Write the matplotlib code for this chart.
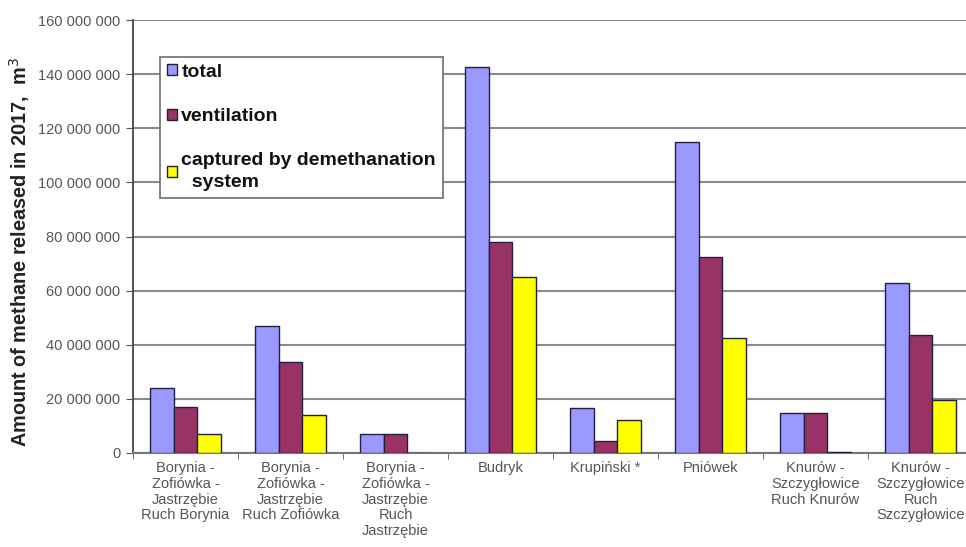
import matplotlib
matplotlib.use("Agg")
import matplotlib.pyplot as plt
import numpy as np

plt.rcParams['font.family'] = ['Liberation Sans', 'DejaVu Sans']

categories = [
    "Borynia -\nZofiówka -\nJastrzębie\nRuch Borynia",
    "Borynia -\nZofiówka -\nJastrzębie\nRuch Zofiówka",
    "Borynia -\nZofiówka -\nJastrzębie\nRuch\nJastrzębie",
    "Budryk",
    "Krupiński *",
    "Pniówek",
    "Knurów -\nSzczygłowice\nRuch Knurów",
    "Knurów -\nSzczygłowice\nRuch\nSzczygłowice",
]
total = [24_000_000, 47_000_000, 7_000_000, 142_500_000, 16_500_000, 115_000_000, 14_700_000, 63_000_000]
ventilation = [17_000_000, 33_500_000, 7_000_000, 78_000_000, 4_300_000, 72_500_000, 14_700_000, 43_500_000]
captured = [7_000_000, 14_000_000, 0, 65_000_000, 12_200_000, 42_500_000, 400_000, 19_500_000]
series_names = ["total", "ventilation", "captured by demethanation\n  system"]
colors = ["#9999FF", "#993366", "#FFFF00"]
yticks = list(range(0, 160_000_001, 20_000_000))

fig = plt.figure(figsize=(9.66, 5.47), dpi=100)
ax = fig.add_axes([133/966, 1-453/547, 840/966, 433/547])

x = np.arange(len(categories))
w = 0.224
for i, (vals, name, c) in enumerate(zip([total, ventilation, captured], series_names, colors)):
    ax.bar(x + (i - 1) * w, vals, width=w, color=c, edgecolor="#202040",
           linewidth=1.0, label=name, zorder=3)

ax.set_xlim(-0.5, len(categories) - 0.5)
ax.set_ylim(0, 160_000_000)
ax.set_yticks(yticks)
ax.set_yticklabels([f"{v:,}".replace(",", " ") for v in yticks], color="#555555", fontsize=10.5)
ax.yaxis.grid(True, color="#8a8a8a", linewidth=1.5, zorder=0)
ax.set_axisbelow(True)

ax.set_xticks(x)
ax.set_xticklabels(categories, fontsize=10.5, color="#555555", linespacing=1.15)
ax.tick_params(axis="x", which="major", length=0, pad=6)
ax.set_xticks(np.arange(-0.5, len(categories), 1.0), minor=True)
ax.tick_params(axis="x", which="minor", length=4, color="#555555", direction="out")
ax.tick_params(axis="y", length=5, color="#555555", direction="out", pad=4)

for s in ["top", "right"]:
    ax.spines[s].set_visible(False)
ax.spines["left"].set_color("#444444")
ax.spines["left"].set_linewidth(1.3)
ax.spines["bottom"].set_color("#777777")
ax.spines["bottom"].set_linewidth(1.5)

ax.set_ylabel("Amount of methane released in 2017,  m$^3$", fontsize=14.3,
              fontweight="bold", color="#222222")
ax.yaxis.set_label_coords(-0.12, 0.465)

leg = ax.legend(loc="upper left", bbox_to_anchor=(160/966, 1-57/547),
                bbox_transform=fig.transFigure, frameon=True, fancybox=False,
                edgecolor="#777777", framealpha=1,
                prop={"weight": "bold", "size": 14}, handlelength=0.5,
                handleheight=0.5, handletextpad=0.25, labelspacing=1.4,
                borderpad=0.35, borderaxespad=0)
leg.get_frame().set_linewidth(1.3)
for t in leg.get_texts():
    t.set_color("#111111")
    t.set_linespacing(1.35)

fig.savefig("out.png", dpi=100)
